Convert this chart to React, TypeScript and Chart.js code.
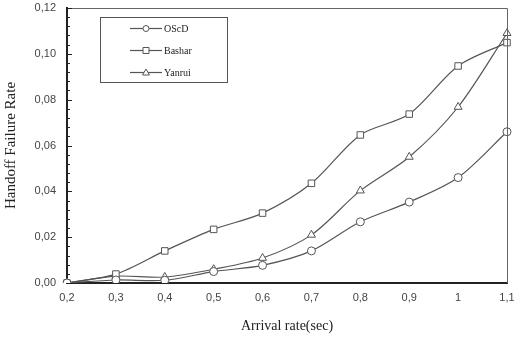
import React, { useEffect, useRef } from "react";
import { Chart, registerables } from "chart.js";

Chart.register(...registerables);

const categories = ["0,2", "0,3", "0,4", "0,5", "0,6", "0,7", "0,8", "0,9", "1", "1,1"];
const oscd = [0, 0.0013, 0.0012, 0.005, 0.0077, 0.014, 0.0267, 0.0353, 0.046, 0.066];
const bashar = [0, 0.0039, 0.014, 0.0234, 0.0305, 0.0435, 0.0646, 0.0737, 0.0947, 0.1049];
const yanrui = [0, 0.003, 0.0026, 0.006, 0.0109, 0.021, 0.0403, 0.055, 0.0768, 0.109];
const seriesNames = ["OScD", "Bashar", "Yanrui"];
const seriesStyles = ["circle", "rect", "triangle"];

const LINE = "#555555";

const framePlugin = {
  id: "frame",
  afterDatasetsDraw(chart: any) {
    const { ctx, chartArea } = chart;
    const { left, right, top, bottom } = chartArea;
    const y = chart.scales.y;
    ctx.save();
    ctx.strokeStyle = "#666";
    ctx.lineWidth = 1;
    ctx.beginPath();
    ctx.moveTo(left, top + 0.5);
    ctx.lineTo(right + 0.5, top + 0.5);
    ctx.lineTo(right + 0.5, bottom);
    ctx.stroke();
    ctx.strokeStyle = "#222";
    ctx.lineWidth = 1;
    for (let i = 0; i <= 30; i++) {
      const v = i * 0.004;
      const py = Math.round(y.getPixelForValue(v)) + 0.5;
      const major = i % 5 === 0;
      ctx.beginPath();
      ctx.moveTo(left, py);
      ctx.lineTo(left + (major ? 5 : 3), py);
      ctx.stroke();
    }
    ctx.restore();
  },
  afterDraw(chart: any) {
    const { ctx } = chart;
    ctx.save();
    const bx = 100, by = 17, bw = 127, bh = 65;
    ctx.strokeStyle = "#555";
    ctx.lineWidth = 1;
    ctx.strokeRect(bx + 0.5, by + 0.5, bw, bh);
    const rows = [28, 50, 72];
    ctx.font = "10px 'Liberation Serif', 'DejaVu Serif', serif";
    ctx.textBaseline = "middle";
    rows.forEach((ry, i) => {
      ctx.strokeStyle = LINE;
      ctx.lineWidth = 1.2;
      ctx.beginPath();
      ctx.moveTo(130, ry + 0.5);
      ctx.lineTo(162, ry + 0.5);
      ctx.stroke();
      ctx.fillStyle = "#fff";
      ctx.strokeStyle = LINE;
      ctx.lineWidth = 1;
      const mx = 146, my = ry + 0.5, r = 3;
      ctx.beginPath();
      if (seriesStyles[i] === "circle") {
        ctx.arc(mx, my, r, 0, Math.PI * 2);
      } else if (seriesStyles[i] === "rect") {
        ctx.rect(mx - r, my - r, 2 * r, 2 * r);
      } else {
        ctx.moveTo(mx, my - r - 0.5);
        ctx.lineTo(mx + r + 0.5, my + r - 0.5);
        ctx.lineTo(mx - r - 0.5, my + r - 0.5);
        ctx.closePath();
      }
      ctx.fill();
      ctx.stroke();
      ctx.fillStyle = "#222";
      ctx.fillText(seriesNames[i], 164, ry + 1);
    });
    ctx.restore();
  },
};

export default function App() {
  const ref = useRef<HTMLCanvasElement>(null);
  useEffect(() => {
    if (!ref.current) return;
    const mk = (label: string, data: number[], style: string, radius: number) => ({
      label,
      data,
      borderColor: LINE,
      borderWidth: 1.2,
      backgroundColor: "#ffffff",
      pointStyle: style,
      pointRadius: radius,
      pointBorderWidth: 1,
      pointBorderColor: LINE,
      pointBackgroundColor: "#ffffff",
      tension: 0.3,
      fill: false,
    });
    const tickFont = { family: "'Liberation Sans', Arial, sans-serif", size: 11 };
    const serif = "'Liberation Serif', 'Times New Roman', serif";
    const chart = new Chart(ref.current, {
      type: "line",
      data: {
        labels: categories,
        datasets: [
          mk(seriesNames[0], oscd, "circle", 4),
          mk(seriesNames[1], bashar, "rect", 4.6),
          mk(seriesNames[2], yanrui, "triangle", 4.6),
        ],
      },
      options: {
        animation: false,
        responsive: true,
        maintainAspectRatio: false,
        layout: { padding: { left: 0, top: 8, right: 15, bottom: 0 } },
        plugins: { legend: { display: false }, tooltip: { enabled: false } },
        scales: {
          x: {
            type: "category",
            offset: false,
            grid: { display: false, drawTicks: false },
            border: { display: true, color: "#222", width: 2 },
            ticks: {
              font: tickFont,
              color: "#444",
              padding: 8,
              maxRotation: 0,
              autoSkip: false,
            },
            title: {
              display: true,
              text: "Arrival rate(sec)",
              font: { family: serif, size: 14 },
              color: "#222",
              padding: { top: 0, bottom: 27 },
            },
            afterFit(scale: any) {
              scale.height = 79;
              scale.paddingLeft = 0;
              scale.paddingRight = 0;
            },
          },
          y: {
            min: 0,
            max: 0.12,
            grid: { display: false, drawTicks: false },
            border: { display: true, color: "#222", width: 2 },
            ticks: {
              stepSize: 0.02,
              font: tickFont,
              color: "#444",
              padding: 11,
              callback: (v: any) => Number(v).toFixed(2).replace(".", ","),
            },
            title: {
              display: true,
              text: "Handoff Failure Rate",
              font: { family: serif, size: 15 },
              color: "#222",
              padding: { top: 2, bottom: 0 },
            },
            afterFit(scale: any) {
              scale.width = 67;
              scale.paddingTop = 0;
              scale.paddingBottom = 0;
            },
          },
        },
      },
      plugins: [framePlugin],
    });
    return () => chart.destroy();
  }, []);
  return (
    <div style={{ position: "fixed", left: 0, top: 0, width: 522, height: 362, background: "#fff" }}>
      <canvas ref={ref} />
    </div>
  );
}
